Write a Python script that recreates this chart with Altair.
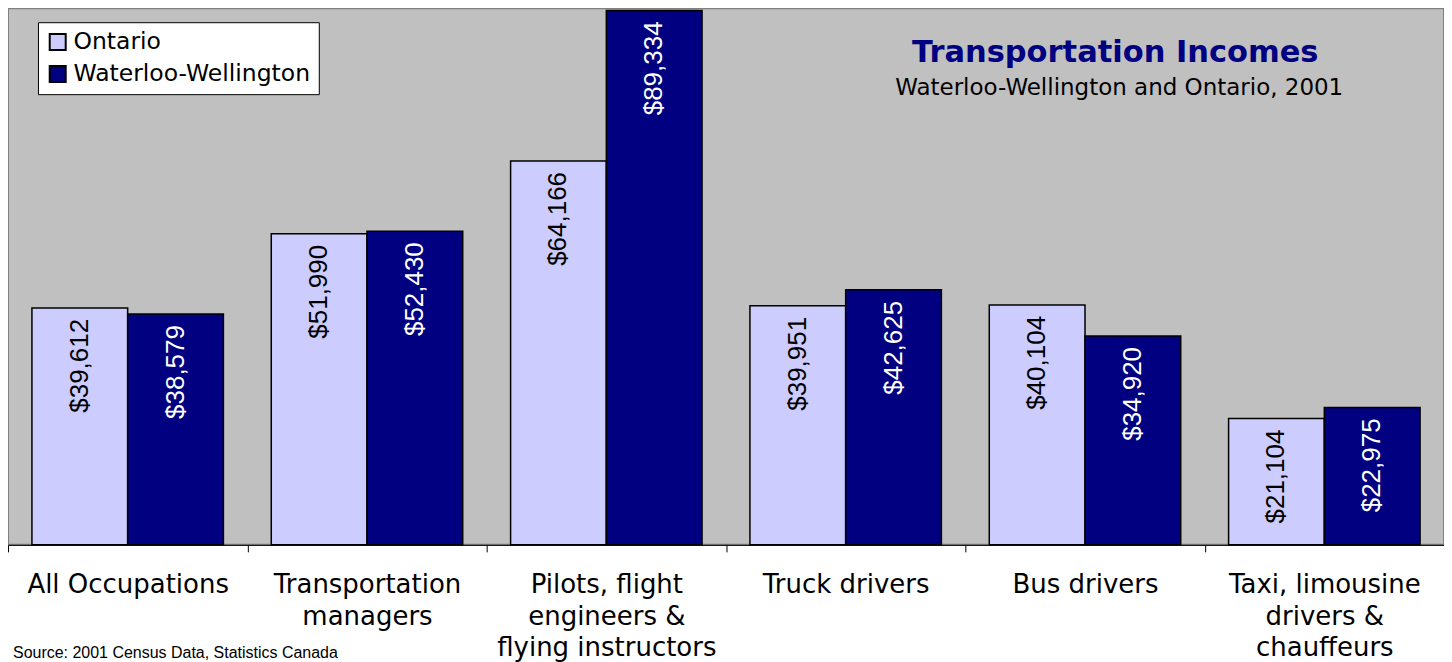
import altair as alt
import pandas as pd

categories = [
    "All Occupations",
    "Transportation\nmanagers",
    "Pilots, flight\nengineers &\nflying instructors",
    "Truck drivers",
    "Bus drivers",
    "Taxi, limousine\ndrivers &\nchauffeurs",
]
series_names = ["Ontario", "Waterloo-Wellington"]
ontario = [39612, 51990, 64166, 39951, 40104, 21104]
waterloo = [38579, 52430, 89334, 42625, 34920, 22975]
series_colors = ["#CCCCFF", "#000080"]

title_text = "Transportation Incomes"
subtitle_text = "Waterloo-Wellington and Ontario, 2001"
source_text = "Source: 2001 Census  Data, Statistics Canada"

rows = []
for c, o, w in zip(categories, ontario, waterloo):
    rows.append({"category": c, "series": series_names[0], "value": o})
    rows.append({"category": c, "series": series_names[1], "value": w})
df = pd.DataFrame(rows)

x_enc = alt.X(
    "category:N",
    sort=categories,
    scale=alt.Scale(paddingInner=0, paddingOuter=0),
    axis=alt.Axis(
        title=None,
        labelAngle=0,
        labelExpr="split(datum.label, '\\n')",
        labelFont="DejaVu Sans",
        labelFontSize=26,
        labelColor="black",
        labelLineHeight=31.5,
        labelPadding=20,
        labelBaseline="top",
        tickBand="extent",
        tickSize=7,
        tickColor="black",
        tickWidth=1,
        domainColor="black",
        domainWidth=1,
        labelLimit=400,
    ),
)
xoff = alt.XOffset("series:N", sort=series_names,
                   scale=alt.Scale(paddingInner=0, paddingOuter=0.25))
y_enc = alt.Y("value:Q", scale=alt.Scale(domain=[0, 89700], nice=False), axis=None)

base = alt.Chart(df)

bars = base.mark_bar(stroke="black", strokeWidth=1.5).encode(
    x=x_enc,
    xOffset=xoff,
    y=y_enc,
    color=alt.Color(
        "series:N",
        sort=series_names,
        scale=alt.Scale(domain=series_names, range=series_colors),
        legend=alt.Legend(
            title=None,
            orient="none",
            legendX=30,
            legendY=14,
            direction="vertical",
            fillColor="white",
            strokeColor="black",
            padding=8,
            rowPadding=7,
            symbolType="square",
            symbolSize=256,
            symbolStrokeColor="black",
            symbolStrokeWidth=2,
            labelFont="DejaVu Sans",
            labelFontSize=23.5,
            labelColor="black",
            labelOffset=4,
            labelLimit=400,
        ),
    ),
)

labels = base.mark_text(
    angle=270,
    align="right",
    baseline="middle",
    dx=-11,
    font="Liberation Sans",
    fontSize=26,
).encode(
    x=x_enc,
    xOffset=xoff,
    y=y_enc,
    text=alt.Text("value:Q", format="$,.0f"),
    color=alt.condition(alt.datum.series == "Ontario", alt.value("black"), alt.value("white")),
)

title = alt.Chart(pd.DataFrame({"t": [title_text]})).mark_text(
    font="DejaVu Sans", fontSize=30.5, fontWeight="bold", color="#000080",
    align="center", baseline="alphabetic",
).encode(text="t:N", x=alt.value(1108), y=alt.value(54))

subtitle = alt.Chart(pd.DataFrame({"t": [subtitle_text]})).mark_text(
    font="DejaVu Sans", fontSize=23, color="black",
    align="center", baseline="alphabetic",
).encode(text="t:N", x=alt.value(1112), y=alt.value(87))

source = alt.Chart(pd.DataFrame({"t": [source_text]})).mark_text(
    font="Liberation Sans", fontSize=16, color="black",
    align="left", baseline="alphabetic",
).encode(text="t:N", x=alt.value(5), y=alt.value(650))

chart = alt.layer(bars, labels, title, subtitle, source).properties(
    width=1437,
    height=537,
    autosize=alt.AutoSizeParams(type="none"),
    padding={"left": 0, "top": 0, "right": 0, "bottom": 117},
    background="white",
).configure_view(
    fill="#C0C0C0", stroke="#808080", strokeWidth=2
)

chart.save("out.html", embed_options={"renderer": "svg", "actions": False})
